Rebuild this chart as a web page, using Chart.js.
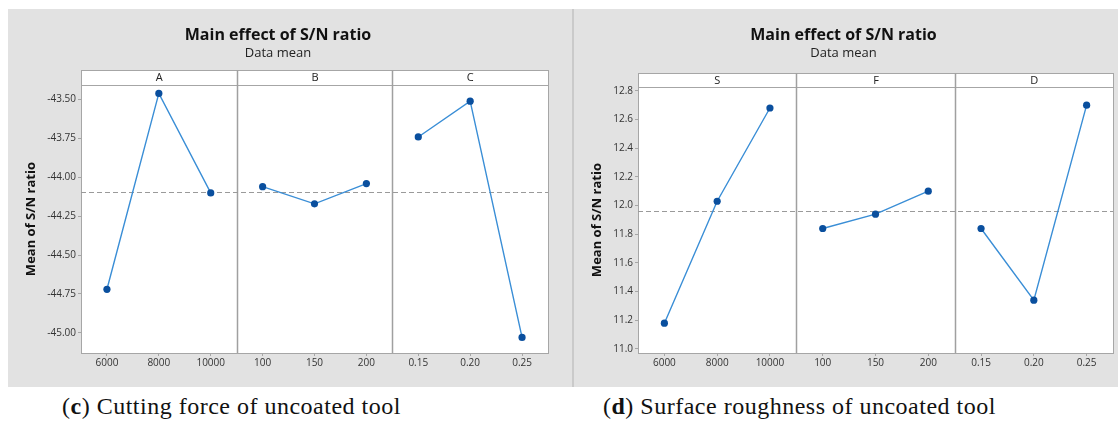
<!DOCTYPE html>
<html>
<head>
<meta charset="utf-8">
<script src="https://cdn.jsdelivr.net/npm/chart.js@4.4.1/dist/chart.umd.min.js"></script>
<style>
  body { margin: 0; width: 1118px; height: 423px; overflow: hidden; position: relative; background: #fff; font-family: "Open Sans", sans-serif; }
  .panel { position: absolute; top: 9px; height: 378px; background: #e2e2e2; }
  #panelC { left: 8px; width: 564px; }
  #panelD { left: 574px; width: 566px; }
  #sep { position: absolute; left: 572px; top: 9px; width: 2px; height: 378px; background: #cacaca; }
  .panel canvas { position: absolute; left: 0; top: 0; }
  .cap { position: absolute; top: 393px; font-family: "Liberation Serif", serif; font-size: 24px; letter-spacing: 0.5px; color: #111; white-space: nowrap; }
</style>
</head>
<body>
<div class="panel" id="panelC"><canvas id="chartC" width="564" height="378"></canvas></div>
<div id="sep"></div>
<div class="panel" id="panelD"><canvas id="chartD" width="566" height="378"></canvas></div>
<div class="cap" style="left:62px">(<b>c</b>) Cutting force of uncoated tool</div>
<div class="cap" style="left:603px">(<b>d</b>) Surface roughness of uncoated tool</div>

<script>
// (c) cutting force
const levelsC  = ["6000", "8000", "10000", "100", "150", "200", "0.15", "0.20", "0.25"];
const factorsC = ["A", "B", "C"];
const valsA = [-44.72, -43.46, -44.10];
const valsB = [-44.06, -44.17, -44.04];
const valsC = [-43.74, -43.51, -45.03];
const yTicksC = [-43.50, -43.75, -44.00, -44.25, -44.50, -44.75, -45.00];

// (d) surface roughness
const levelsD  = ["6000", "8000", "10000", "100", "150", "200", "0.15", "0.20", "0.25"];
const factorsD = ["S", "F", "D"];
const valsS = [11.18, 12.03, 12.68];
const valsF = [11.84, 11.94, 12.10];
const valsD = [11.84, 11.34, 12.70];
const yTicksD = [11.0, 11.2, 11.4, 11.6, 11.8, 12.0, 12.2, 12.4, 12.6, 12.8];

const LINE = "#3a8ed6", MARK = "#0a4f9e", FRAME = "#a6a6a6";

function buildDatasets(groups) {
    const n = groups.length * 3;
    return groups.map((vals, g) => {
        const data = new Array(n).fill(null);
        vals.forEach((v, i) => data[g * 3 + i] = v);
        return {
            data, borderColor: LINE, borderWidth: 1.4,
            pointRadius: 3.6, pointBackgroundColor: MARK, pointBorderColor: MARK, pointBorderWidth: 0,
            spanGaps: false, tension: 0
        };
    });
}

// white plot, frame, header strip, dividers, dashed grand mean
const panelPlugin = {
    id: "panelPlugin",
    beforeDatasetsDraw(chart, args, opts) {
        const { ctx, chartArea: a, scales: { x, y } } = chart;
        const vals = chart.data.datasets.flatMap(d => d.data.filter(v => v !== null));
        const mean = vals.reduce((s, v) => s + v, 0) / vals.length;
        const bounds = [];
        for (let g = 1; g < opts.factors.length; g++) {
            bounds.push(Math.round((x.getPixelForValue(g * 3 - 1) + x.getPixelForValue(g * 3)) / 2) + 0.5);
        }
        ctx.save();
        // header strip
        const hTop = a.top - opts.headerH;
        ctx.fillStyle = "#fff";
        ctx.fillRect(a.left, hTop, a.right - a.left, opts.headerH);
        ctx.strokeStyle = FRAME; ctx.lineWidth = 1;
        ctx.strokeRect(Math.round(a.left) + 0.5, Math.round(hTop) + 0.5, Math.round(a.right - a.left), Math.round(opts.headerH));
        ctx.strokeRect(Math.round(a.left) + 0.5, Math.round(a.top) + 0.5, Math.round(a.right - a.left), Math.round(a.bottom - a.top));
        ctx.lineWidth = 1.5;
        ctx.strokeStyle = "#a0a0a0";
        bounds.forEach(bx => {
            ctx.beginPath(); ctx.moveTo(bx, hTop); ctx.lineTo(bx, a.bottom); ctx.stroke();
        });
        ctx.fillStyle = "#222";
        ctx.font = "11px 'Open Sans'";
        ctx.textAlign = "center"; ctx.textBaseline = "middle";
        const edges = [a.left, ...bounds, a.right];
        opts.factors.forEach((f, i) => ctx.fillText(f, (edges[i] + edges[i + 1]) / 2, hTop + opts.headerH / 2 + 0.5));
        // grand mean reference line
        const yy = Math.round(y.getPixelForValue(mean)) + 0.5;
        ctx.setLineDash([5, 3]);
        ctx.strokeStyle = "#9a9a9a"; ctx.lineWidth = 1;
        ctx.beginPath(); ctx.moveTo(a.left, yy); ctx.lineTo(a.right, yy); ctx.stroke();
        ctx.restore();
    },
    beforeDraw(chart) {
        const { ctx, chartArea: a } = chart;
        ctx.save();
        ctx.fillStyle = "#fff";
        ctx.fillRect(a.left, a.top, a.right - a.left, a.bottom - a.top);
        ctx.restore();
    }
};

function makeChart(id, labels, factors, groups, yTicks, yMin, yMax, decimals, yWidth, padRight, subPadBottom, headerH) {
    return new Chart(document.getElementById(id), {
        type: "line",
        data: { labels, datasets: buildDatasets(groups) },
        plugins: [panelPlugin],
        options: {
            responsive: false, animation: false,
            layout: { padding: { left: 0, right: padRight, top: 0, bottom: 0 } },
            plugins: {
                legend: { display: false }, tooltip: { enabled: false },
                title: { display: true, text: "Main effect of S/N ratio", color: "#111",
                         font: { family: "Open Sans", size: 16, weight: "bold", lineHeight: 1.2 },
                         padding: { top: 17, bottom: 0 } },
                subtitle: { display: true, text: "Data mean", color: "#222",
                            font: { family: "Open Sans", size: 13, lineHeight: 1.2 },
                            padding: { top: 0, bottom: subPadBottom } },
                panelPlugin: { factors, headerH }
            },
            scales: {
                x: {
                    offset: true,
                    grid: { drawOnChartArea: false, drawTicks: true, tickLength: 3, color: FRAME },
                    border: { display: false },
                    ticks: { autoSkip: false, maxRotation: 0, padding: 1, color: "#333", font: { family: "Open Sans", size: 10 } },
                    afterFit: s => { s.height = 34; }
                },
                y: {
                    min: yMin, max: yMax,
                    afterBuildTicks: s => { s.ticks = yTicks.map(v => ({ value: v })); },
                    grid: { drawOnChartArea: false, drawTicks: true, tickLength: 3, color: FRAME },
                    border: { display: false },
                    ticks: { padding: 2, color: "#333", font: { family: "Open Sans", size: 10 },
                             callback: v => Number(v).toFixed(decimals) },
                    title: { display: true, text: "Mean of S/N ratio", color: "#111",
                             font: { family: "Open Sans", size: 13, weight: "bold" }, padding: { top: 15, bottom: 0 } },
                    afterFit: s => { s.width = yWidth; }
                }
            }
        }
    });
}

makeChart("chartC", levelsC, factorsC, [valsA, valsB, valsC], yTicksC, -45.13, -43.407, 2, 73, 24, 24.4, 15);
makeChart("chartD", levelsD, factorsD, [valsS, valsF, valsD], yTicksD, 10.972, 12.825, 1, 64, 27, 26.4, 14);
</script>
</body>
</html>
